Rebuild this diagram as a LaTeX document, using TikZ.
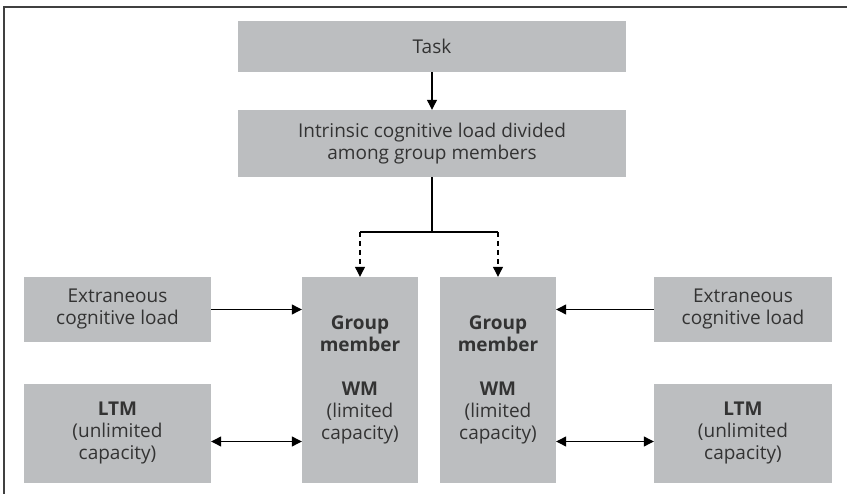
\documentclass[tikz,border=0pt]{standalone}
\usepackage{fontspec}
\setmainfont{Open Sans}
\usetikzlibrary{arrows.meta}
\newlength{\du}
\setlength{\du}{1pt}
\definecolor{boxgray}{rgb}{0.737, 0.745, 0.753}
\definecolor{textgray}{rgb}{0.200, 0.200, 0.200}
\definecolor{framegray}{rgb}{0.250, 0.250, 0.250}

\begin{document}
\begin{tikzpicture}[yscale=-1,
  box/.style={fill=boxgray, text=textgray, align=center, inner sep=0pt,
    font=\fontsize{19}{22}\selectfont},
  link/.style={draw=black, line width=1.2pt, -{Triangle[length=10pt,width=10pt]}},
  dlink/.style={draw=black, line width=1.2pt, {Triangle[length=10pt,width=10pt]}-{Triangle[length=10pt,width=10pt]}}]
\useasboundingbox (0\du,0\du) rectangle (847\du,494\du);
% frame
\draw[framegray, line width=1.3pt] (847\du,7\du)--(4\du,7\du)--(4\du,494\du);
% top row
\node[box, minimum width=388\du, minimum height=51\du] (task) at (432\du,46.5\du){Task};
\node[box, minimum width=388\du, minimum height=67\du] (intr) at (432\du,143.5\du){Intrinsic cognitive load divided\\among group members};
% group members
\node[box, minimum width=116\du, minimum height=206\du] (gmA) at (360\du,380\du){\textbf{Group}\\\textbf{member}\\[22pt]\textbf{WM}\\(limited\\capacity)};
\node[box, minimum width=116\du, minimum height=206\du] (gmB) at (498\du,380\du){\textbf{Group}\\\textbf{member}\\[22pt]\textbf{WM}\\(limited\\capacity)};
% side boxes
\node[box, minimum width=187\du, minimum height=65\du] (extA) at (117.5\du,309.5\du){Extraneous\\cognitive load};
\node[box, minimum width=178\du, minimum height=65\du] (extB) at (743\du,309.5\du){Extraneous\\cognitive load};
\node[box, minimum width=187\du, minimum height=99\du] (ltmA) at (117.5\du,433.5\du){\textbf{LTM}\\(unlimited\\capacity)};
\node[box, minimum width=178\du, minimum height=99\du] (ltmB) at (743\du,433.5\du){\textbf{LTM}\\(unlimited\\capacity)};
\coordinate (split) at (432\du,232\du);
\coordinate (ltmrow) at (0\du,441.5\du);
% connectors
\draw[link] (task.south)--(intr.north);
\draw[line width=1.2pt] (intr.south)--(split);
\draw[line width=1.2pt] (split -| gmA.north)--(split -| gmB.north);
\draw[link, dash pattern=on 5pt off 4pt] (split -| gmA.north)--(gmA.north);
\draw[link, dash pattern=on 5pt off 4pt] (split -| gmB.north)--(gmB.north);
\draw[link] (extA.east)--(extA.east -| gmA.west);
\draw[link] (extB.west)--(extB.west -| gmB.east);
\draw[dlink] (ltmA.east |- ltmrow)--(gmA.west |- ltmrow);
\draw[dlink] (ltmB.west |- ltmrow)--(gmB.east |- ltmrow);
\end{tikzpicture}
\end{document}
